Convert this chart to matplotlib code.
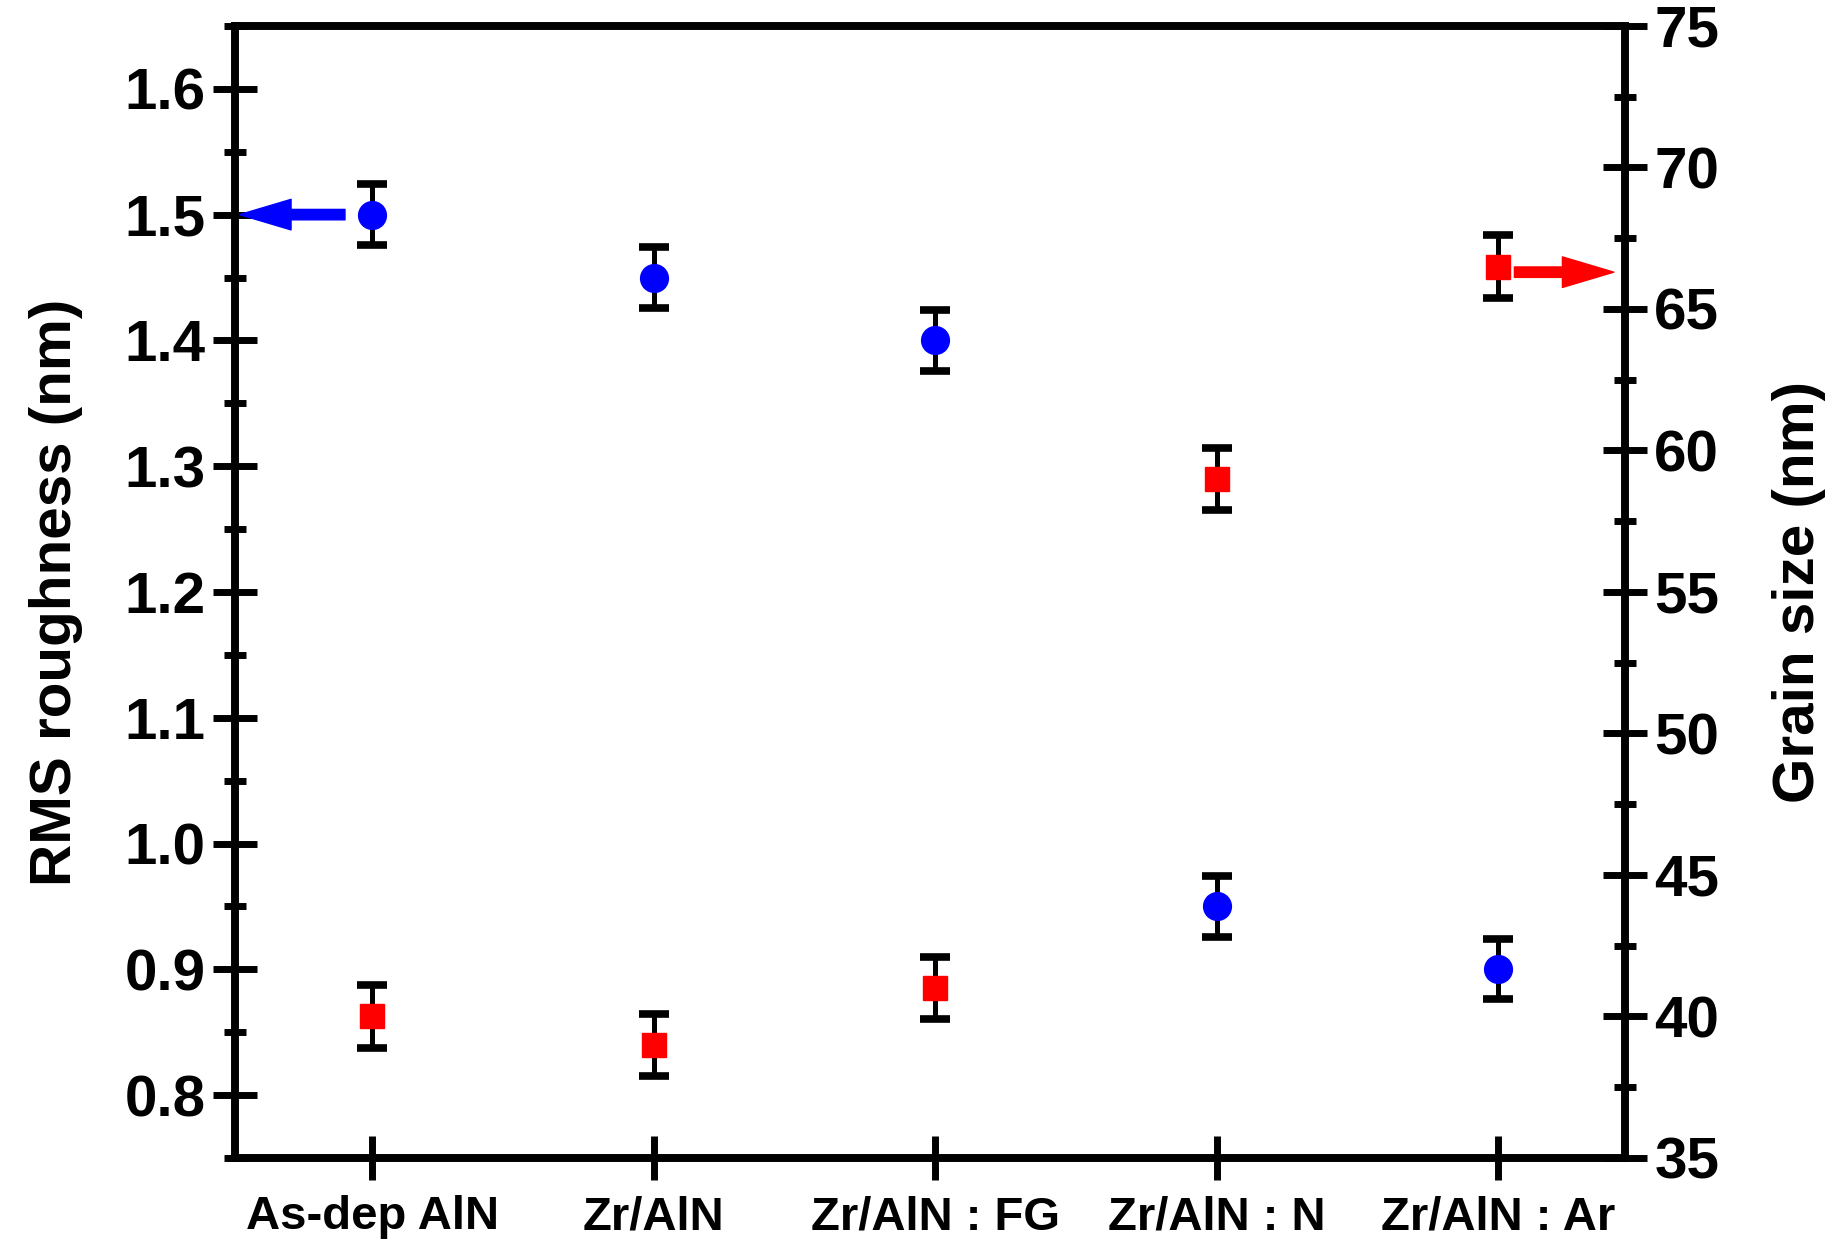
import matplotlib
matplotlib.use("Agg")
import matplotlib.pyplot as plt
from matplotlib.ticker import MultipleLocator

# data
samples = ["As-dep AlN", "Zr/AlN", "Zr/AlN : FG", "Zr/AlN : N", "Zr/AlN : Ar"]
rms = [1.50, 1.45, 1.40, 0.95, 0.90]
rms_err = [0.024, 0.024, 0.024, 0.024, 0.024]
grain = [40.0, 39.0, 41.0, 59.0, 66.5]
grain_err = [1.1, 1.1, 1.1, 1.1, 1.1]

plt.rcParams['font.family'] = ['Liberation Sans', 'DejaVu Sans']
plt.rcParams['font.weight'] = 'bold'
plt.rcParams['axes.labelweight'] = 'bold'

fig = plt.figure(figsize=(18.35, 12.54), dpi=100)
ax = fig.add_axes([0.128, 0.0766, 0.7576, 0.9027])
ax2 = ax.twinx()

x = list(range(len(samples)))

# RMS roughness (left axis)
ax.errorbar(x, rms, yerr=rms_err, fmt='o', color='blue', ms=20,
            ecolor='black', elinewidth=3.6, capsize=11, capthick=5.5, zorder=3)
# grain size (right axis)
ax2.errorbar(x, grain, yerr=grain_err, fmt='s', color='red', ms=17,
             ecolor='black', elinewidth=3.6, capsize=11, capthick=5.5, zorder=3)

ax.set_xlim(-0.487, 4.45)
ax.set_ylim(0.75, 1.65)
ax2.set_ylim(35, 75)

ax.set_xticks(x)
ax.set_xticklabels(samples, fontsize=34)
ax.yaxis.set_major_locator(MultipleLocator(0.1))
ax.yaxis.set_minor_locator(MultipleLocator(0.05))
ax.yaxis.set_major_formatter(matplotlib.ticker.FormatStrFormatter('%.1f'))
ax2.yaxis.set_major_locator(MultipleLocator(5))
ax2.yaxis.set_minor_locator(MultipleLocator(2.5))

for a in (ax, ax2):
    for s in a.spines.values():
        s.set_linewidth(5.5)
    a.tick_params(which='major', direction='inout', length=32, width=5)
    a.tick_params(which='minor', direction='inout', length=16, width=5)
ax.tick_params(axis='y', labelsize=42, pad=5)
ax.tick_params(axis='x', pad=11)
ax2.tick_params(axis='y', labelsize=42, pad=5)
ax.tick_params(axis='x', which='minor', bottom=False)

ax.set_ylabel("RMS roughness (nm)", fontsize=42, labelpad=30)
ax2.set_ylabel("Grain size (nm)", fontsize=42, labelpad=38)

# arrows pointing to the matching axis
ax.annotate("", xy=(-0.47, rms[0]), xytext=(-0.096, rms[0]),
            arrowprops=dict(arrowstyle="simple,head_length=3.7,head_width=2.2,tail_width=0.75",
                            color='blue', shrinkA=0, shrinkB=0, mutation_scale=10))
ax2.annotate("", xy=(4.41, grain[-1] - 0.2), xytext=(4.057, grain[-1] - 0.2),
             arrowprops=dict(arrowstyle="simple,head_length=3.7,head_width=2.2,tail_width=0.75",
                             color='red', shrinkA=0, shrinkB=0, mutation_scale=10))

fig.savefig("out.png", dpi=100)
